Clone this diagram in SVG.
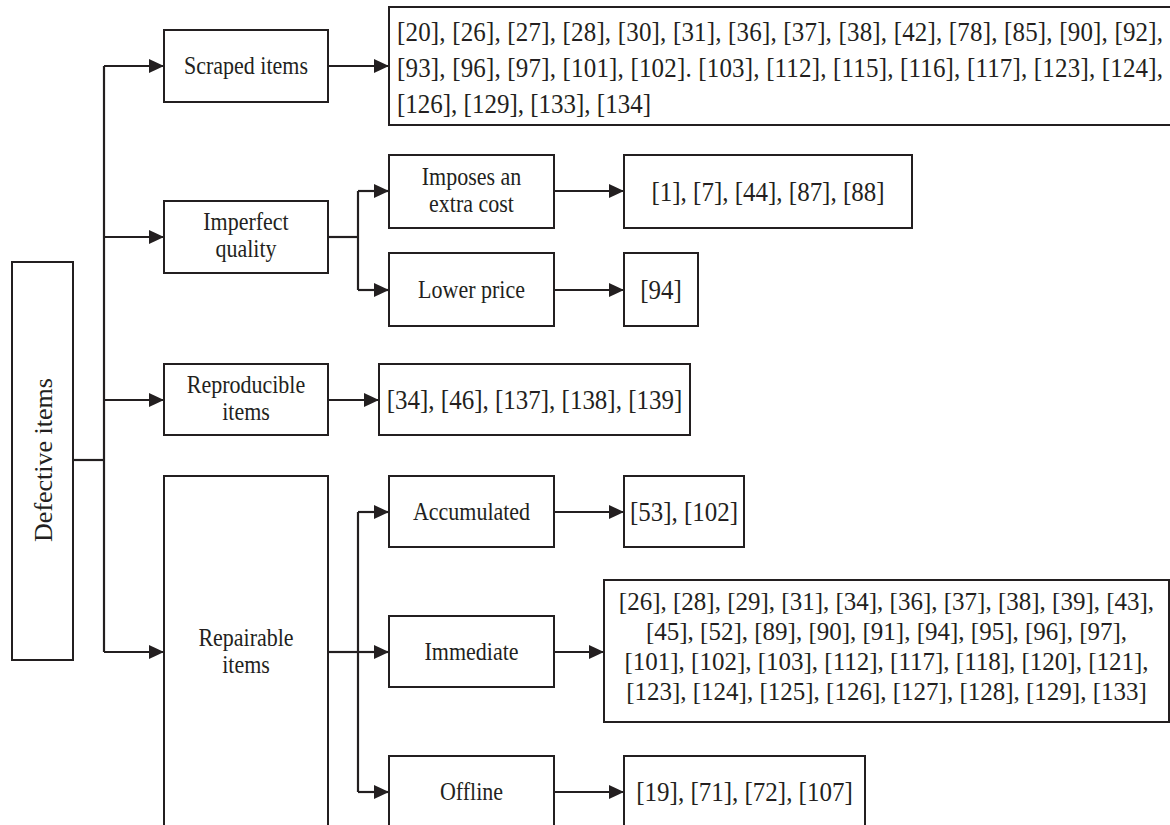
<svg xmlns="http://www.w3.org/2000/svg" width="1170" height="825" viewBox="0 0 1170 825">
<style>
.box{fill:#fff;stroke:#231f20;stroke-width:2}
.ln{fill:none;stroke:#231f20;stroke-width:2.2}
.lb{font-family:"Liberation Serif","Times New Roman",serif;font-size:22px;fill:#231f20;text-anchor:middle}
.rf{font-family:"Liberation Serif","Times New Roman",serif;font-size:25px;fill:#231f20;text-anchor:middle}
.st{text-anchor:start}
</style>
<defs>
<marker id="ah" markerWidth="15" markerHeight="14" refX="15" refY="7" orient="auto" markerUnits="userSpaceOnUse">
<path d="M0,0 L15,7 L0,14 Z" fill="#231f20"/>
</marker>
</defs>
<rect width="1170" height="825" fill="#fff"/>
<g id="connectors">
<path class="ln" d="M73,460 H104"/>
<path class="ln" d="M104,66 V652"/>
<path class="ln" d="M104,66 H164" marker-end="url(#ah)"/>
<path class="ln" d="M104,237 H164" marker-end="url(#ah)"/>
<path class="ln" d="M104,400 H164" marker-end="url(#ah)"/>
<path class="ln" d="M104,652 H164" marker-end="url(#ah)"/>
<path class="ln" d="M328,66 H389" marker-end="url(#ah)"/>
<path class="ln" d="M328,237 H358"/>
<path class="ln" d="M358,191 V290"/>
<path class="ln" d="M358,191 H389" marker-end="url(#ah)"/>
<path class="ln" d="M358,290 H389" marker-end="url(#ah)"/>
<path class="ln" d="M554,191 H624" marker-end="url(#ah)"/>
<path class="ln" d="M554,290 H624" marker-end="url(#ah)"/>
<path class="ln" d="M328,400 H379" marker-end="url(#ah)"/>
<path class="ln" d="M328,652 H358"/>
<path class="ln" d="M358,512 V792"/>
<path class="ln" d="M358,512 H389" marker-end="url(#ah)"/>
<path class="ln" d="M358,652 H389" marker-end="url(#ah)"/>
<path class="ln" d="M358,792 H389" marker-end="url(#ah)"/>
<path class="ln" d="M554,512 H624" marker-end="url(#ah)"/>
<path class="ln" d="M554,652 H604" marker-end="url(#ah)"/>
<path class="ln" d="M554,792 H624" marker-end="url(#ah)"/>
</g>
<g id="root">
<rect class="box" x="12" y="262" width="61" height="398"/>
<text class="lb" style="font-size:26px" transform="translate(52,460) rotate(-90)">Defective items</text>
</g>
<g id="scraped">
<rect class="box" x="164" y="30" width="164" height="72"/>
<text class="lb" transform="translate(246,74) scale(1,1.1)">Scraped items</text>
</g>
<g id="scraped-refs">
<rect class="box" x="389" y="7" width="790" height="118"/>
<text class="rf st" transform="translate(397,41) scale(1,1.1)" textLength="766" lengthAdjust="spacing">[20], [26], [27], [28], [30], [31], [36], [37], [38], [42], [78], [85], [90], [92],</text>
<text class="rf st" transform="translate(397,77) scale(1,1.1)" textLength="766" lengthAdjust="spacing">[93], [96], [97], [101], [102]. [103], [112], [115], [116], [117], [123], [124],</text>
<text class="rf st" transform="translate(397,113) scale(1,1.1)">[126], [129], [133], [134]</text>
</g>
<g id="imperfect">
<rect class="box" x="164" y="201" width="164" height="72"/>
<text class="lb" transform="translate(246,230) scale(1,1.1)">Imperfect</text>
<text class="lb" transform="translate(246,257) scale(1,1.1)">quality</text>
</g>
<g id="imposes">
<rect class="box" x="389" y="155" width="165" height="73"/>
<text class="lb" transform="translate(471.5,184.5) scale(1,1.1)">Imposes an</text>
<text class="lb" transform="translate(471.5,211.5) scale(1,1.1)">extra cost</text>
</g>
<g id="imposes-refs">
<rect class="box" x="624" y="155" width="288" height="73"/>
<text class="rf" transform="translate(768,200.5) scale(1,1.1)">[1], [7], [44], [87], [88]</text>
</g>
<g id="lower">
<rect class="box" x="389" y="253" width="165" height="73"/>
<text class="lb" transform="translate(471.5,298) scale(1,1.1)">Lower price</text>
</g>
<g id="lower-refs">
<rect class="box" x="624" y="253" width="74" height="73"/>
<text class="rf" transform="translate(661,299) scale(1,1.1)">[94]</text>
</g>
<g id="reproducible">
<rect class="box" x="164" y="364" width="164" height="71"/>
<text class="lb" transform="translate(246,393) scale(1,1.1)">Reproducible</text>
<text class="lb" transform="translate(246,420) scale(1,1.1)">items</text>
</g>
<g id="reproducible-refs">
<rect class="box" x="379" y="364" width="311" height="71"/>
<text class="rf" transform="translate(534.5,409) scale(1,1.1)">[34], [46], [137], [138], [139]</text>
</g>
<g id="repairable">
<rect class="box" x="164" y="476" width="164" height="360"/>
<text class="lb" transform="translate(246,646) scale(1,1.1)">Repairable</text>
<text class="lb" transform="translate(246,673) scale(1,1.1)">items</text>
</g>
<g id="accumulated">
<rect class="box" x="389" y="476" width="165" height="71"/>
<text class="lb" transform="translate(471.5,520) scale(1,1.1)">Accumulated</text>
</g>
<g id="accumulated-refs">
<rect class="box" x="624" y="476" width="120" height="71"/>
<text class="rf" transform="translate(684,521) scale(1,1.1)">[53], [102]</text>
</g>
<g id="immediate">
<rect class="box" x="389" y="616" width="165" height="71"/>
<text class="lb" transform="translate(471.5,660) scale(1,1.1)">Immediate</text>
</g>
<g id="immediate-refs">
<rect class="box" x="604" y="580" width="565" height="142"/>
<text class="rf" x="886.5" y="610">[26], [28], [29], [31], [34], [36], [37], [38], [39], [43],</text>
<text class="rf" x="886.5" y="640">[45], [52], [89], [90], [91], [94], [95], [96], [97],</text>
<text class="rf" x="886.5" y="670">[101], [102], [103], [112], [117], [118], [120], [121],</text>
<text class="rf" x="886.5" y="700">[123], [124], [125], [126], [127], [128], [129], [133]</text>
</g>
<g id="offline">
<rect class="box" x="389" y="756" width="165" height="80"/>
<text class="lb" transform="translate(471.5,800) scale(1,1.1)">Offline</text>
</g>
<g id="offline-refs">
<rect class="box" x="624" y="756" width="241" height="80"/>
<text class="rf" transform="translate(744.5,801) scale(1,1.1)">[19], [71], [72], [107]</text>
</g>
</svg>
